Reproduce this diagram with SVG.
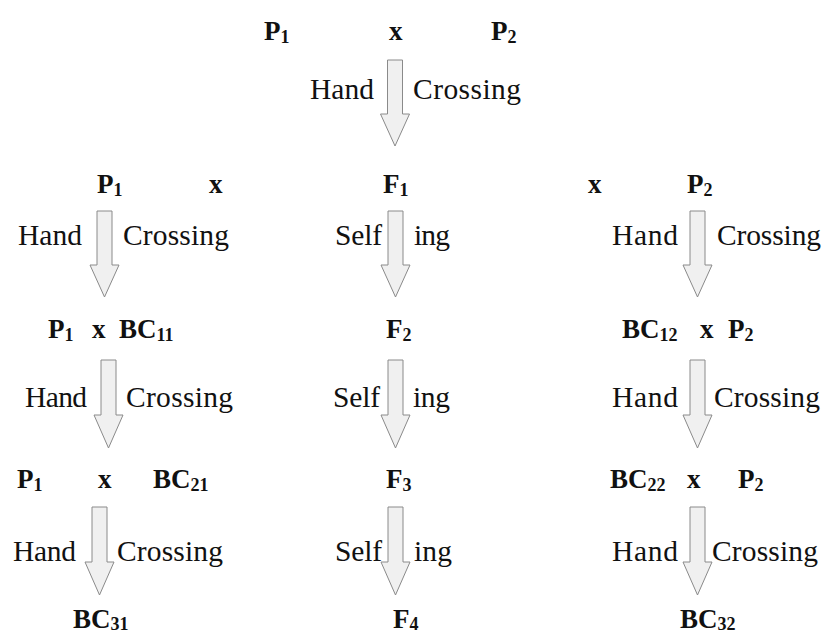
<svg xmlns="http://www.w3.org/2000/svg" width="827" height="637" viewBox="0 0 827 637">
<style>
.b{font-family:"Liberation Serif","Times New Roman",serif;font-weight:bold;font-size:27px;fill:#111}
.s{font-size:18px}
.t{font-family:"Liberation Serif","Times New Roman",serif;font-size:29.5px;fill:#111}
.arr{fill:#f0f0f0;stroke:#8a8a8a;stroke-width:1}
</style>
<defs>
<path id="ar" class="arr" d="M-7.5,0 H7.5 V54 H14.5 L0,86 L-14.5,54 H-7.5 Z"/>
<path id="ar2" class="arr" d="M-7.5,0 H7.5 V55 H14.5 L0,88 L-14.5,55 H-7.5 Z"/>
</defs>
<rect width="827" height="637" fill="#fff"/>
<g id="connectors">
<use href="#ar" x="395" y="60"/>
<use href="#ar" x="104.5" y="211"/>
<use href="#ar" x="395.5" y="211"/>
<use href="#ar" x="697.5" y="211"/>
<use href="#ar2" x="108.5" y="360"/>
<use href="#ar2" x="395.5" y="360"/>
<use href="#ar2" x="697.5" y="360"/>
<use href="#ar2" x="99.5" y="507"/>
<use href="#ar2" x="395.5" y="507"/>
<use href="#ar2" x="697.5" y="507"/>
</g>
<g id="labels">
<text class="t" x="310" y="99" textLength="64">Hand</text>
<text class="t" x="413" y="99" textLength="108">Crossing</text>
<text class="t" x="18" y="245" textLength="64">Hand</text>
<text class="t" x="123" y="245" textLength="106">Crossing</text>
<text class="t" x="335" y="245" textLength="47">Self</text>
<text class="t" x="414" y="245" textLength="36">ing</text>
<text class="t" x="612" y="245" textLength="66">Hand</text>
<text class="t" x="717" y="245" textLength="104">Crossing</text>
<text class="t" x="25" y="407" textLength="62">Hand</text>
<text class="t" x="126" y="407" textLength="107">Crossing</text>
<text class="t" x="333" y="407" textLength="47">Self</text>
<text class="t" x="413" y="407" textLength="37">ing</text>
<text class="t" x="612" y="407" textLength="66">Hand</text>
<text class="t" x="714" y="407" textLength="106">Crossing</text>
<text class="t" x="13" y="561" textLength="63">Hand</text>
<text class="t" x="117" y="561" textLength="106">Crossing</text>
<text class="t" x="335" y="561" textLength="47">Self</text>
<text class="t" x="414" y="561" textLength="38">ing</text>
<text class="t" x="612" y="561" textLength="66">Hand</text>
<text class="t" x="712" y="561" textLength="106">Crossing</text>
</g>
<g id="row0">
<text class="b" x="264" y="40">P<tspan class="s" dy="3">1</tspan></text>
<text class="b" x="389" y="40">x</text>
<text class="b" x="491" y="40">P<tspan class="s" dy="3">2</tspan></text>
</g>
<g id="row1">
<text class="b" x="97" y="193">P<tspan class="s" dy="3">1</tspan></text>
<text class="b" x="209" y="193">x</text>
<text class="b" x="383" y="193">F<tspan class="s" dy="3">1</tspan></text>
<text class="b" x="588" y="193">x</text>
<text class="b" x="687" y="193">P<tspan class="s" dy="3">2</tspan></text>
</g>
<g id="row2">
<text class="b" x="48" y="338">P<tspan class="s" dy="3">1</tspan></text>
<text class="b" x="92" y="338">x</text>
<text class="b" x="119" y="338">BC<tspan class="s" dy="3">11</tspan></text>
<text class="b" x="386" y="338">F<tspan class="s" dy="3">2</tspan></text>
<text class="b" x="622" y="338">BC<tspan class="s" dy="3">12</tspan></text>
<text class="b" x="700" y="338">x</text>
<text class="b" x="728" y="338">P<tspan class="s" dy="3">2</tspan></text>
</g>
<g id="row3">
<text class="b" x="17" y="488">P<tspan class="s" dy="3">1</tspan></text>
<text class="b" x="98" y="488">x</text>
<text class="b" x="153" y="488">BC<tspan class="s" dy="3">21</tspan></text>
<text class="b" x="386" y="488">F<tspan class="s" dy="3">3</tspan></text>
<text class="b" x="610" y="488">BC<tspan class="s" dy="3">22</tspan></text>
<text class="b" x="687" y="488">x</text>
<text class="b" x="738" y="488">P<tspan class="s" dy="3">2</tspan></text>
</g>
<g id="row4">
<text class="b" x="73" y="628">BC<tspan class="s" dy="2">31</tspan></text>
<text class="b" x="393" y="628">F<tspan class="s" dy="2">4</tspan></text>
<text class="b" x="680" y="628">BC<tspan class="s" dy="2">32</tspan></text>
</g>
</svg>
